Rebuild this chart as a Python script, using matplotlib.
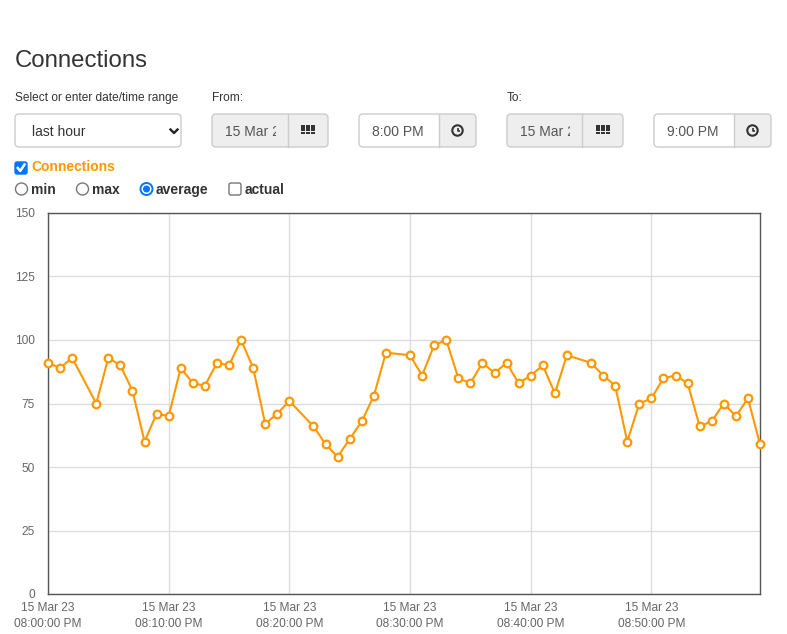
import numpy as np
import matplotlib
matplotlib.use('Agg')
import matplotlib.pyplot as plt
from matplotlib.patches import FancyBboxPatch, Rectangle, Circle

plt.rcParams['font.family'] = ['Liberation Sans', 'DejaVu Sans']

# datos del grafico (minuto desde las 20:00, promedio de conexiones)
minutos = [0, 1, 2, 4, 5, 6, 7, 8, 9, 10, 11, 12, 13, 14, 15, 16, 17, 18, 19, 20,
           22, 23, 24, 25, 26, 27, 28,
           30, 31, 32, 33, 34, 35, 36, 37, 38, 39, 40, 41, 42, 43,
           45, 46, 47, 48, 49, 50, 51, 52, 53, 54, 55, 56, 57, 58, 59]
promedio = [91, 89, 93, 75, 93, 90, 80, 60, 71, 70, 89, 83, 82, 91, 90, 100, 89, 67, 71, 76,
            66, 59, 54, 61, 68, 78, 95,
            94, 86, 98, 100, 85, 83, 91, 87, 91, 83, 86, 90, 79, 94,
            91, 86, 82, 60, 75, 77, 85, 86, 83, 66, 68, 75, 70, 77, 59]

x_ticks = [0, 10, 20, 30, 40, 50]
x_labels = ['15 Mar 23\n08:00:00 PM', '15 Mar 23\n08:10:00 PM', '15 Mar 23\n08:20:00 PM',
            '15 Mar 23\n08:30:00 PM', '15 Mar 23\n08:40:00 PM', '15 Mar 23\n08:50:00 PM']
y_ticks = [0, 25, 50, 75, 100, 125, 150]

NARANJA = '#ff9800'
AZUL = '#0075ff'
W, H = 787, 634

fig = plt.figure(figsize=(W / 100, H / 100), dpi=100)

# capa de interfaz en coordenadas de pixel
ui = fig.add_axes([0, 0, 1, 1])
ui.set_xlim(0, W)
ui.set_ylim(H, 0)
ui.axis('off')


def caja(x0, x1, y0, y1, fondo='white', borde='#cccccc', r=4):
    p = FancyBboxPatch((x0, y0), x1 - x0, y1 - y0,
                       boxstyle=f'round,pad=0,rounding_size={r}',
                       fc=fondo, ec=borde, lw=1)
    ui.add_patch(p)
    return p


def grupo(x0, xd, x1, y0, y1, fondo_input):
    base = caja(x0, x1, y0, y1, fondo=fondo_input, borde='none')
    addon = Rectangle((xd, y0), x1 - xd, y1 - y0, fc='#eeeeee', ec='none')
    ui.add_patch(addon)
    addon.set_clip_path(base)
    ui.plot([xd, xd], [y0, y1], color='#cccccc', lw=1)
    caja(x0, x1, y0, y1, fondo='none')


def icono_grilla(cx, cy):
    for i in range(3):
        for j in range(3):
            ui.add_patch(Rectangle((cx - 7 + i * 5, cy - 5 + j * 3.4), 4, 2.6,
                                   fc='#333333', ec='none'))


def icono_reloj(cx, cy):
    ui.add_patch(Circle((cx, cy), 5.2, fc='none', ec='#333333', lw=1.5))
    ui.plot([cx, cx, cx + 2.5], [cy - 3, cy, cy], color='#333333', lw=1.2,
            solid_capstyle='butt')


# titulo y etiquetas
ui.text(15, 67, 'Connections', fontsize=17.3, color='#333333', va='baseline')
ui.text(15, 101, 'Select or enter date/time range', fontsize=8.6, color='#333333', va='baseline')
ui.text(212, 101, 'From:', fontsize=8.6, color='#333333', va='baseline')
ui.text(507, 101, 'To:', fontsize=8.6, color='#333333', va='baseline')

# selector
caja(15, 181, 114, 147)
ui.text(32, 136, 'last hour', fontsize=10, color='#333333', va='baseline')
ui.plot([170.5, 174, 177.5], [129.5, 133, 129.5], color='#222222', lw=1.7)

# desde / hasta (fecha recortada dentro del campo)
y0, y1 = 114, 147
for xa, xd, xb in [(212, 288, 328), (507, 582, 623)]:
    grupo(xa, xd, xb, y0, y1, '#eeeeee')
    t = ui.text(xa + 13, 136, '15 Mar 23', fontsize=10, color='#555555', va='baseline')
    clip = Rectangle((xa, y0), xd - xa - 12, y1 - y0, transform=ui.transData)
    t.set_clip_path(clip)
    t.set_clip_on(True)
    icono_grilla((xd + xb) / 2, 130)

for xa, xd, xb, txt in [(359, 439, 476, '8:00 PM'), (654, 734, 771, '9:00 PM')]:
    grupo(xa, xd, xb, y0, y1, 'white')
    ui.text(xa + 13, 136, txt, fontsize=10, color='#555555', va='baseline')
    icono_reloj((xd + xb) / 2, 130.5)

# casilla Connections
ui.add_patch(FancyBboxPatch((15, 162), 12, 12, boxstyle='round,pad=0,rounding_size=2',
                            fc=AZUL, ec=AZUL, lw=1))
ui.plot([17.8, 20.3, 24.5], [168, 171, 164.5], color='white', lw=1.8)
ui.text(31, 171, 'Connections', fontsize=10, color=NARANJA, weight='bold', va='baseline')

# opciones
yr = 189
ui.add_patch(Circle((21.5, yr), 6, fc='white', ec='#767676', lw=1))
ui.text(31, 194, 'min', fontsize=10, color='#333333', weight='bold', va='baseline')
ui.add_patch(Circle((82.5, yr), 6, fc='white', ec='#767676', lw=1))
ui.text(92, 194, 'max', fontsize=10, color='#333333', weight='bold', va='baseline')
ui.add_patch(Circle((146.5, yr), 6, fc='white', ec=AZUL, lw=1.4))
ui.add_patch(Circle((146.5, yr), 3.5, fc=AZUL, ec='none'))
ui.text(156, 194, 'average', fontsize=10, color='#333333', weight='bold', va='baseline')
ui.add_patch(FancyBboxPatch((229, 183), 12, 12, boxstyle='round,pad=0,rounding_size=2',
                            fc='white', ec='#767676', lw=1))
ui.text(245, 194, 'actual', fontsize=10, color='#333333', weight='bold', va='baseline')

# grafico
ax = fig.add_axes([48 / W, (H - 594) / H, (760 - 48) / W, (594 - 213) / H])
ax.plot(minutos, promedio, color=NARANJA, lw=1.5, marker='o', markersize=5.5,
        markerfacecolor='white', markeredgecolor=NARANJA, markeredgewidth=1.6,
        clip_on=False, zorder=3)
ax.set_xlim(0, 59)
ax.set_ylim(0, 150)
ax.set_xticks(x_ticks)
ax.set_xticklabels(x_labels)
ax.set_yticks(y_ticks)
ax.grid(True, color='#dddddd', lw=1)
ax.set_axisbelow(True)
ax.tick_params(length=0, labelsize=8.6, labelcolor='#666666')
ax.tick_params(axis='y', pad=9.5)
ax.tick_params(axis='x', pad=6)
for t in ax.get_xticklabels():
    t.set_linespacing(1.45)
for s in ax.spines.values():
    s.set_color('#555555')
    s.set_linewidth(1)

fig.savefig('out.png', dpi=100)
